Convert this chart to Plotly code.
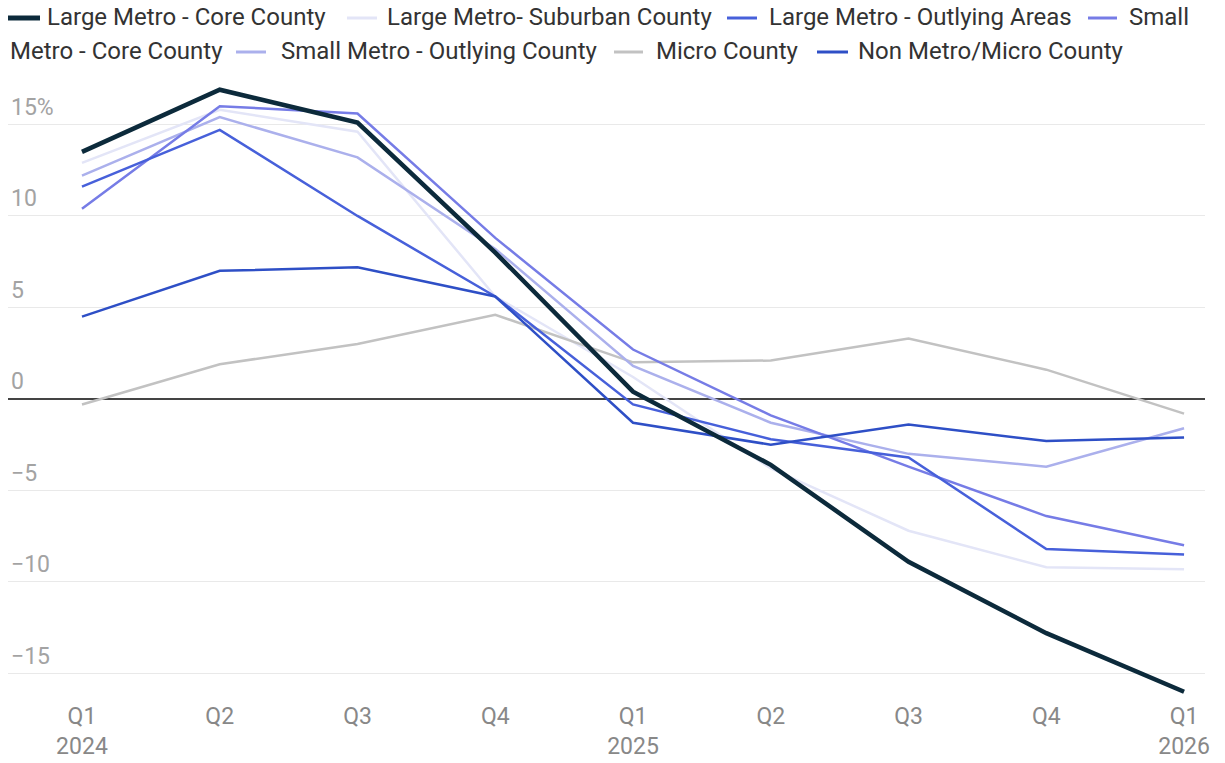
import plotly.graph_objects as go

# ---- data -------------------------------------------------------------
quarters = ["Q1 2024", "Q2 2024", "Q3 2024", "Q4 2024",
            "Q1 2025", "Q2 2025", "Q3 2025", "Q4 2025", "Q1 2026"]
tick_text = ["Q1<br>2024", "Q2", "Q3", "Q4", "Q1<br>2025", "Q2", "Q3", "Q4", "Q1<br>2026"]

large_metro_core = [13.5, 16.9, 15.1, 8.0, 0.4, -3.6, -8.9, -12.8, -16.0]
large_metro_suburban = [12.9, 15.8, 14.6, 5.6, 1.2, -3.8, -7.2, -9.2, -9.3]
large_metro_outlying = [11.6, 14.7, 10.0, 5.6, -0.3, -2.2, -3.2, -8.2, -8.5]
small_metro_core = [10.4, 16.0, 15.6, 8.8, 2.7, -0.9, -3.7, -6.4, -8.0]
small_metro_outlying = [12.2, 15.4, 13.2, 8.2, 1.8, -1.3, -3.0, -3.7, -1.6]
micro_county = [-0.3, 1.9, 3.0, 4.6, 2.0, 2.1, 3.3, 1.6, -0.8]
non_metro = [4.5, 7.0, 7.2, 5.6, -1.3, -2.5, -1.4, -2.3, -2.1]

y_tick_vals = [-15, -10, -5, 0, 5, 10, 15]
y_tick_text = ["\u221215", "\u221210", "\u22125", "0", "5", "10", "15%"]

# ---- styling ----------------------------------------------------------
series = [
    # name, values, colour, width, zorder
    ("Large Metro - Core County", large_metro_core, "#0c2a3b", 4.5, 7),
    ("Large Metro- Suburban County", large_metro_suburban, "#e3e5f7", 2.5, 1),
    ("Large Metro - Outlying Areas", large_metro_outlying, "#4760da", 2.5, 5),
    ("Small Metro - Core County", small_metro_core, "#767ce6", 2.5, 4),
    ("Small Metro - Outlying County", small_metro_outlying, "#abb0ec", 2.5, 3),
    ("Micro County", micro_county, "#c2c2c2", 2.5, 2),
    ("Non Metro/Micro County", non_metro, "#2e4fc6", 2.5, 6),
]

W, H = 1225, 763
ML, MR, MT, MB = 8, 20, 82, 59
PW, PH = W - ML - MR, H - MT - MB
FONT = "Roboto, 'Open Sans', sans-serif"


def px_x(px):
    return (px - ML) / PW


def px_y(py):
    return (H - MB - py) / PH


fig = go.Figure()
for name, vals, color, width, z in series:
    fig.add_trace(go.Scatter(
        x=quarters, y=vals, name=name, mode="lines",
        line=dict(color=color, width=width),
        zorder=z, showlegend=False,
        hovertemplate="%{x}: %{y:.1f}%<extra>" + name + "</extra>",
    ))

# ---- legend drawn as wrapped text rows --------------------------------
shapes = []
annotations = []
legend_font = dict(family=FONT, size=24, color="#333333")
row1, row2 = 17, 51

# (series index, symbol start, symbol end, text start, row, text)
legend_items = [
    (0, 8, 40, 45, row1, series[0][0]),
    (1, 347, 377, 385, row1, series[1][0]),
    (2, 727, 757, 767, row1, series[2][0]),
    (3, 1088, 1117, 1127, row1, series[3][0].split(" ", 1)[0]),
    (None, None, None, 8, row2, series[3][0].split(" ", 1)[1]),
    (4, 236, 266, 279, row2, series[4][0]),
    (5, 614, 643, 654, row2, series[5][0]),
    (6, 817, 848, 856, row2, series[6][0]),
]
for idx, x0, x1, tx, ry, text in legend_items:
    if idx is not None:
        shapes.append(dict(
            type="line", xref="paper", yref="paper",
            x0=px_x(x0), x1=px_x(x1), y0=px_y(ry + 1), y1=px_y(ry + 1),
            line=dict(color=series[idx][2], width=5 if idx == 0 else 3),
        ))
    annotations.append(dict(
        text=text, xref="paper", yref="paper", x=px_x(tx), y=px_y(ry),
        xanchor="left", yanchor="middle", showarrow=False, font=legend_font,
    ))

fig.update_layout(
    width=W, height=H,
    margin=dict(l=ML, r=MR, t=MT, b=MB, pad=0),
    paper_bgcolor="white", plot_bgcolor="white",
    font=dict(family=FONT),
    shapes=shapes, annotations=annotations,
    xaxis=dict(
        type="category", range=[-0.537, 8.152], automargin=False,
        tickvals=quarters, ticktext=tick_text,
        showgrid=False, zeroline=False, showline=False, ticks="",
        tickfont=dict(family=FONT, size=23, color="#888888"),
        ticklabelstandoff=-4,
    ),
    yaxis=dict(
        range=[-16.67, 17.32], automargin=False,
        tickvals=y_tick_vals, ticktext=y_tick_text,
        ticklabelposition="inside", ticklabelshift=-18,
        showgrid=True, gridcolor="#e9e9e9", gridwidth=1,
        zeroline=True, zerolinecolor="#444444", zerolinewidth=1.6,
        showline=False, ticks="",
        tickfont=dict(family=FONT, size=23, color="#a3a3a3"),
    ),
)

fig.write_html("out.html")
